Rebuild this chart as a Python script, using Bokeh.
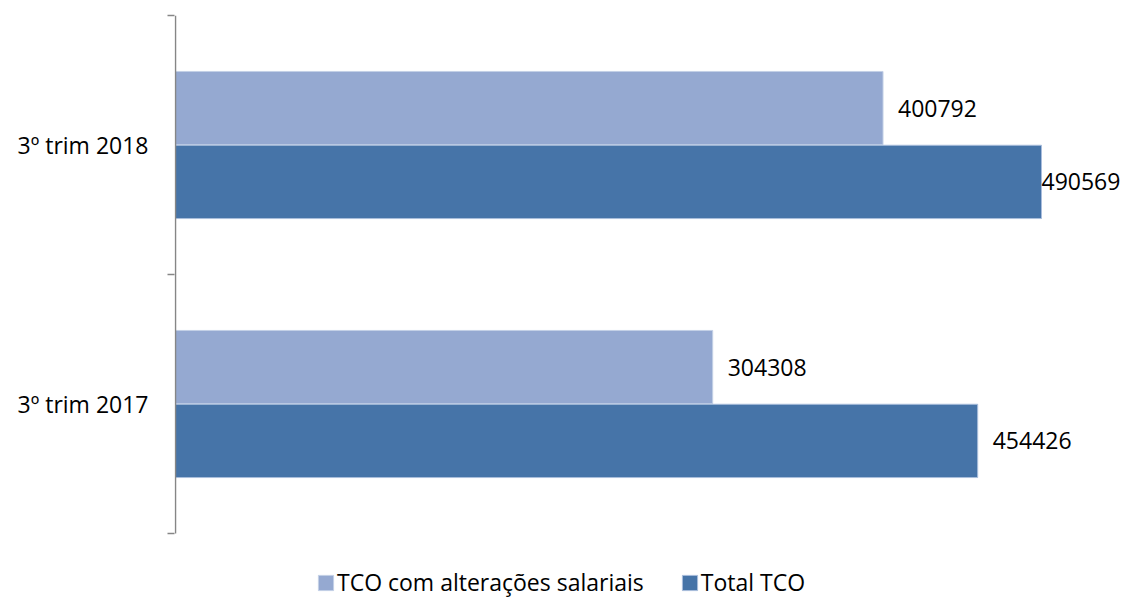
from bokeh.plotting import figure
from bokeh.models import Range1d, FixedTicker, ColumnDataSource, LabelSet, Legend, LegendItem
from bokeh.core.properties import value
from bokeh.embed import file_html
from bokeh.resources import INLINE

categories = ["3º trim 2017", "3º trim 2018"]
series_names = ["TCO com alterações salariais", "Total TCO"]
tco_alteracoes = [304308, 400792]
total_tco = [454426, 490569]

colors = ["#95A9D1", "#4674A8"]
FONT = "Open Sans"

n = len(categories)
p = figure(width=1120, height=598, output_backend="svg", toolbar_location=None,
           x_range=Range1d(-566, 535321), y_range=Range1d(-0.251, n),
           min_border_left=174, min_border_right=0, min_border_top=15, min_border_bottom=0)
p.outline_line_color = None
p.xgrid.visible = False
p.ygrid.visible = False
p.xaxis.visible = False
p.background_fill_color = "white"

centers = [i + 0.5 for i in range(n)]
dodge = 0.1425
bar_h = 0.283

src1 = ColumnDataSource(dict(y=[c + dodge for c in centers], v=tco_alteracoes,
                             t=[str(v) for v in tco_alteracoes], xoff=[15, 15]))
src2 = ColumnDataSource(dict(y=[c - dodge for c in centers], v=total_tco,
                             t=[str(v) for v in total_tco], xoff=[15, 0]))

r1 = p.hbar(y="y", right="v", left=0, height=bar_h, source=src1,
            fill_color=colors[0], line_color="#C3D0E6", line_width=1)
r2 = p.hbar(y="y", right="v", left=0, height=bar_h, source=src2,
            fill_color=colors[1], line_color="#A9BEDC", line_width=1)

# category axis line at the bars' base, spanning the categories
p.segment(x0=[0], y0=[0], x1=[0], y1=[n], line_color="#868686", line_width=1.5)

for s in (src1, src2):
    p.add_layout(LabelSet(x="v", y="y", text="t", x_offset="xoff", source=s,
                          text_font=value(FONT), text_font_size="23px", text_color="black",
                          text_baseline="middle", text_align="left"))

ax = p.yaxis[0]
ax.ticker = FixedTicker(ticks=centers, minor_ticks=list(range(n + 1)))
ax.major_label_overrides = {c: lab for c, lab in zip(centers, categories)}
ax.major_tick_out = 0
ax.major_tick_in = 0
ax.minor_tick_out = 7
ax.minor_tick_in = 0
ax.minor_tick_line_color = "#868686"
ax.minor_tick_line_width = 1.5
ax.axis_line_color = None
ax.major_label_standoff = 19
ax.major_label_text_font = FONT
ax.major_label_text_font_size = "23px"
ax.major_label_text_color = "black"

legend = Legend(items=[LegendItem(label=series_names[0], renderers=[r1]),
                       LegendItem(label=series_names[1], renderers=[r2])],
                orientation="horizontal", location=(142, 0))
legend.glyph_width = 19
legend.glyph_height = 19
legend.label_standoff = 2
legend.spacing = 36
legend.padding = 0
legend.margin = 0
legend.border_line_color = None
legend.background_fill_alpha = 0
legend.label_text_font = FONT
legend.label_text_font_size = "23px"
legend.label_text_color = "black"
legend.label_height = 15
p.add_layout(legend)

open("out.html", "w").write(file_html(p, INLINE))
